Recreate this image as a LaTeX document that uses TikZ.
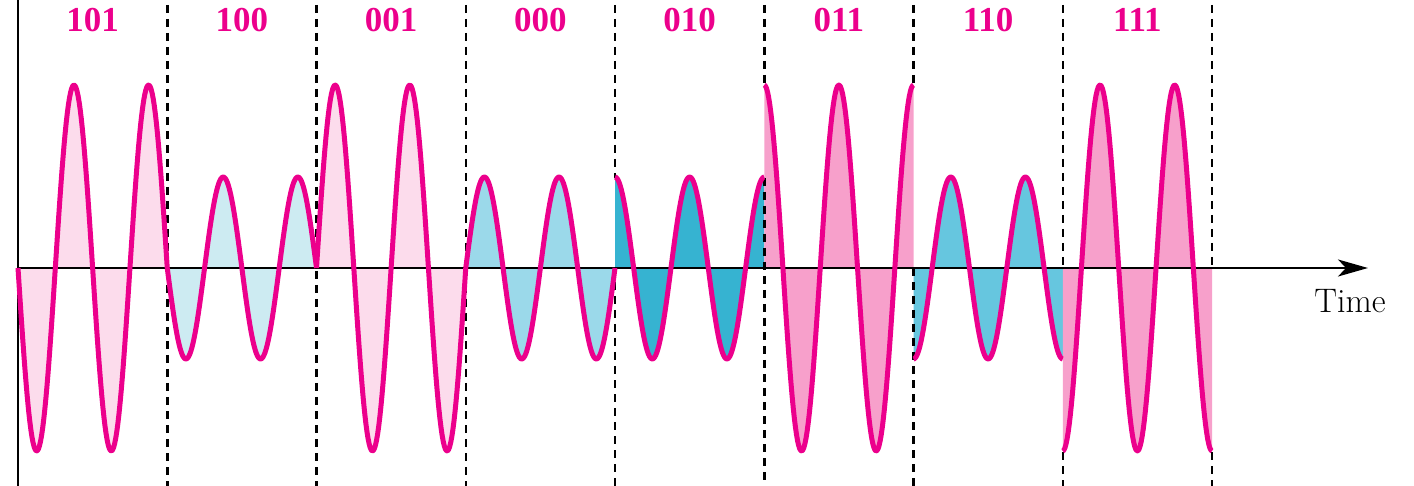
\documentclass[tikz,border=0pt]{standalone}
\usepackage{fontspec}
\newfontfamily\labfont{Liberation Serif}
\usetikzlibrary{arrows.meta}
\definecolor{wavec}{HTML}{EC008C}
\definecolor{lpink}{HTML}{FCDCEC}
\definecolor{mpink}{HTML}{F7A0CB}
\definecolor{lcyan}{HTML}{CDEBF2}
\definecolor{mcyan}{HTML}{9BD9EA}
\definecolor{dcyan}{HTML}{36B3D1}
\definecolor{ccyan}{HTML}{66C6DF}
\begin{document}
\begin{tikzpicture}[x=0.5pt,y=-0.5pt,
  wave/.style={draw=wavec,line width=2.5pt,line join=round},
  sep/.style={black,line width=1.25pt,dash pattern=on 4pt off 3pt},
  axis/.style={black,line width=1.2pt},
  code/.style={font=\labfont\bfseries\fontsize{17.5}{19}\selectfont,text=wavec,inner sep=0pt},
  timelab/.style={font=\fontsize{17}{19}\selectfont,inner sep=0pt}]
\useasboundingbox (0,0) rectangle (1414,486);
% fills
\foreach \a/\amp/\ph/\col in {18/183/180/lpink,167.25/91/180/lcyan,316.5/183/0/lpink,465.75/91/0/mcyan,615/91/90/dcyan,764.25/183/90/mpink,913.5/91/270/ccyan,1062.75/183/270/mpink}{
  \pgfmathsetmacro\bb{\a+149.25}
  \fill[\col] (\a,268) -- plot[domain=\a:\bb,samples=140] (\x,{268-\amp*sin(4.824121*(\x-\a)+\ph)}) -- (\bb,268) -- cycle;
}
% separators
\foreach \xx/\ya/\yb/\yc in {167.25/486/486/486,316.5/486/486/486,465.75/486/486/486,615/178/268/486,764.25/86/178/486,913.5/86/268/486,1062.75/268/452/486,1212/268/452/486}{
  \draw[sep] (\xx,5) -- (\xx,\ya);
  \draw[sep] (\xx,\yb) -- (\xx,\yc);
}
% axes
\coordinate (o) at (18,268);
\coordinate (xend) at (1368,268);
\coordinate (ytop) at (18,0);
\coordinate (ybot) at (18,486);
\draw[axis,line width=1.4pt] (ytop) -- (ybot);
\draw[axis,-{Stealth[length=15pt,width=8.5pt,inset=4pt]}] (o) -- (xend);
\node[timelab] (time) at (1350,301) {Time};
% waves
\foreach \a/\amp/\ph in {18/183/180,167.25/91/180,316.5/183/0,465.75/91/0,615/91/90,764.25/183/90,913.5/91/270,1062.75/183/270}{
  \pgfmathsetmacro\bb{\a+149.25}
  \draw[wave] plot[domain=\a:\bb,samples=140] (\x,{268-\amp*sin(4.824121*(\x-\a)+\ph)});
}
% labels
\node[code] (c1) at (92.6,20) {101};
\node[code] (c2) at (241.9,20) {100};
\node[code] (c3) at (391.1,20) {001};
\node[code] (c4) at (540.4,20) {000};
\node[code] (c5) at (689.6,20) {010};
\node[code] (c6) at (838.9,20) {011};
\node[code] (c7) at (988.1,20) {110};
\node[code] (c8) at (1137.4,20) {111};
\end{tikzpicture}
\end{document}
